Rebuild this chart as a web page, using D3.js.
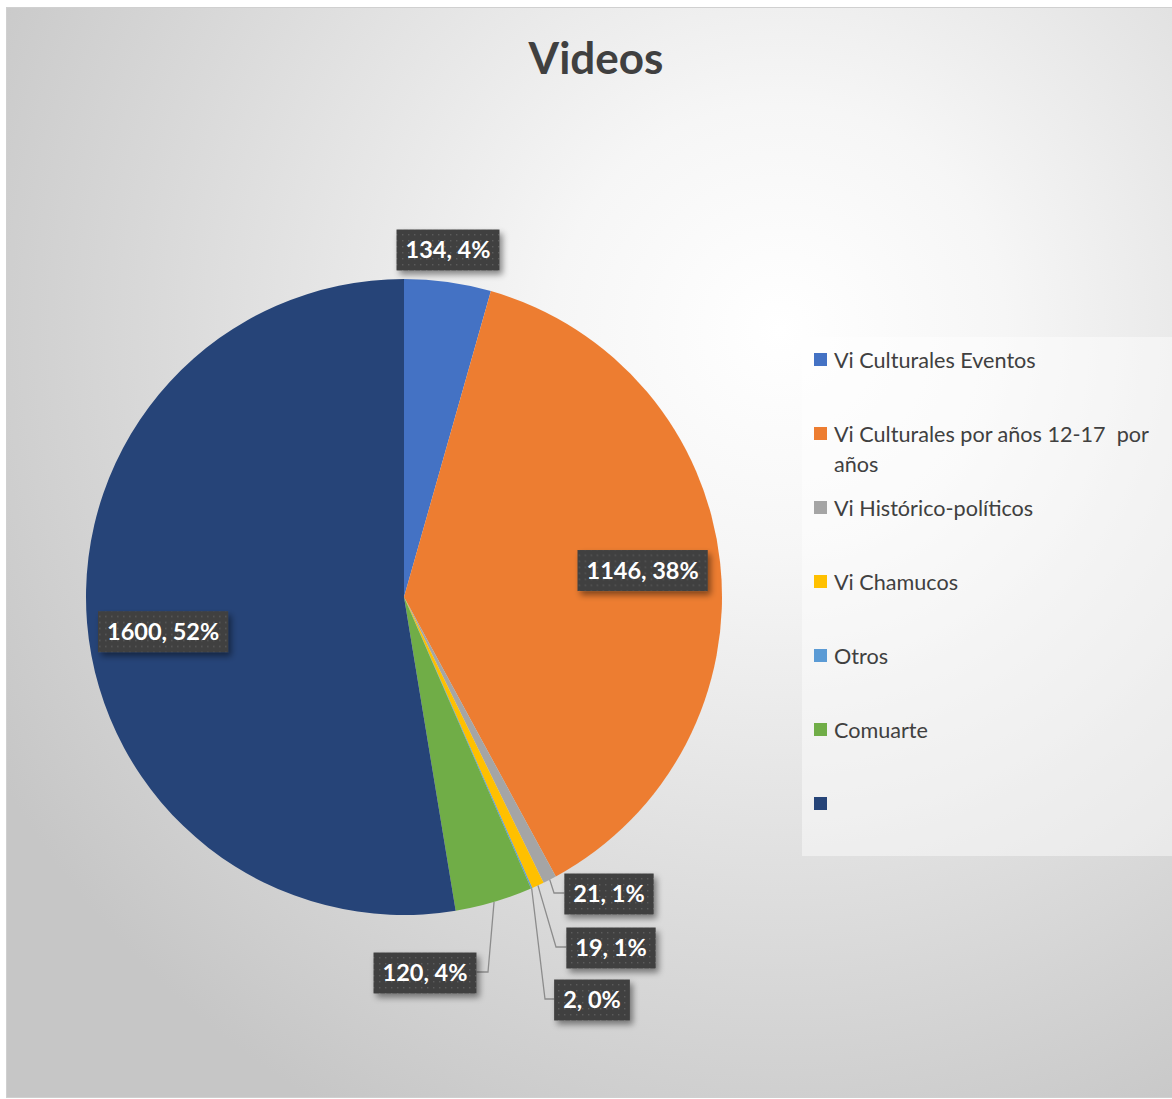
<!DOCTYPE html>
<html><head><meta charset="utf-8">
<script src="https://cdn.jsdelivr.net/npm/d3@7"></script>
<style>
html,body{margin:0;padding:0;background:#fff;}
svg{display:block;}
text{font-family:Lato,"Open Sans",sans-serif;}
</style></head>
<body>
<script>
const categories = ["Vi Culturales Eventos", "Vi Culturales por años 12-17  por años", "Vi Histórico-políticos", "Vi Chamucos", "Otros", "Comuarte", ""];
const values = [134, 1146, 21, 19, 2, 120, 1600];
const percents = [4, 38, 1, 1, 0, 4, 52];
const colors = ["#4472C4", "#ED7D31", "#A5A5A5", "#FFC000", "#5B9BD5", "#70AD47", "#264478"];
const title = "Videos";

// layout
const W = 1172, H = 1099;
const cx = 404, cy = 597, R = 318;
const labelLayout = [
  {type: "out", x: 448, y: 250, leader: false},
  {type: "in", r: 0.755},
  {type: "out", x: 609, y: 894, leader: true, elbowX: 554, side: "left"},
  {type: "out", x: 611, y: 948, leader: true, elbowX: 556, side: "left"},
  {type: "out", x: 592, y: 1000, leader: true, elbowX: 545, side: "left"},
  {type: "out", x: 425, y: 973, leader: true, elbowX: 488, side: "right"},
  {type: "in", r: 0.76}
];

const svg = d3.select("body").append("svg").attr("width", W).attr("height", H);
const defs = svg.append("defs");
const rg = defs.append("radialGradient").attr("id", "bg")
  .attr("gradientUnits", "userSpaceOnUse").attr("cx", 780).attr("cy", 330).attr("r", 900);
rg.append("stop").attr("offset", "0").attr("stop-color", "#ffffff");
rg.append("stop").attr("offset", "0.25").attr("stop-color", "#f6f6f6");
rg.append("stop").attr("offset", "0.7").attr("stop-color", "#d9d9d9");
rg.append("stop").attr("offset", "1").attr("stop-color", "#c6c6c6");

const pat = defs.append("pattern").attr("id", "dots").attr("patternUnits", "userSpaceOnUse")
  .attr("width", 6).attr("height", 6);
pat.append("rect").attr("width", 6).attr("height", 6).attr("fill", "#404040");
pat.append("rect").attr("x", 2).attr("y", 2).attr("width", 1.4).attr("height", 1.4).attr("fill", "#5c5c5c");

const f = defs.append("filter").attr("id", "shadow").attr("x", "-20%").attr("y", "-30%").attr("width", "150%").attr("height", "180%");
f.append("feDropShadow").attr("dx", 3).attr("dy", 4).attr("stdDeviation", 3)
  .attr("flood-color", "#000").attr("flood-opacity", 0.45);

// chart area
svg.append("rect").attr("x", 6.5).attr("y", 7.5).attr("width", W).attr("height", 1090)
  .attr("fill", "url(#bg)").attr("stroke", "#d0d0d0").attr("stroke-width", 1);

// title
svg.append("text").attr("x", 596).attr("y", 74).attr("text-anchor", "middle")
  .attr("font-size", 44).attr("font-weight", 700).attr("fill", "#404040").text(title);

// pie
const pie = d3.pie().sort(null).value(d => d)(values);
const arc = d3.arc().innerRadius(0).outerRadius(R);
const g = svg.append("g").attr("transform", `translate(${cx},${cy})`);
g.selectAll("path.slice").data(pie).join("path").attr("class", "slice")
  .attr("d", arc).attr("fill", (d, i) => colors[i]);

// leaders
const pt = (a, r) => [Math.sin(a) * r, -Math.cos(a) * r];
pie.forEach((d, i) => {
  const L = labelLayout[i];
  if (L.type !== "out" || !L.leader) return;
  const mid = (d.startAngle + d.endAngle) / 2;
  const [sx, sy] = pt(mid, R);
  const ly = L.y - cy - 1;
  const ex = L.elbowX - cx;
  g.append("polyline").attr("class", "leader").attr("data-i", i)
    .attr("points", `${sx},${sy} ${ex},${ly}`)
    .attr("fill", "none").attr("stroke", "#8c8c8c").attr("stroke-width", 1.3);
});

// labels
const lab = svg.append("g");
pie.forEach((d, i) => {
  const L = labelLayout[i];
  let x, y;
  if (L.type === "in") {
    const mid = (d.startAngle + d.endAngle) / 2;
    const p = pt(mid, R * L.r);
    x = cx + p[0]; y = cy + p[1];
    if (i === 6) y += 15;
  } else { x = L.x; y = L.y; }
  const t = `${values[i]}, ${percents[i]}%`;
  const lg = lab.append("g").attr("transform", `translate(${x},${y})`);
  const rect = lg.append("rect").attr("fill", "url(#dots)").attr("filter", "url(#shadow)");
  const tx = lg.append("text").attr("text-anchor", "middle").attr("dy", "0.35em")
    .attr("font-size", 23.5).attr("font-weight", 700).attr("fill", "#fff").text(t);
  const bb = tx.node().getBBox();
  const w = bb.width + 18, h = 41;
  rect.attr("x", -w / 2).attr("y", -h / 2).attr("width", w).attr("height", h);
  if (L.type === "out" && L.leader) {
    const edge = L.side === "left" ? x - w / 2 : x + w / 2;
    const line = g.select(`polyline[data-i="${i}"]`);
    line.attr("points", line.attr("points") + ` ${edge - cx},${L.y - cy - 1}`);
  }
});

// legend
svg.append("rect").attr("x", 802).attr("y", 337).attr("width", 380).attr("height", 519)
  .attr("fill", "#fff").attr("fill-opacity", 0.45);
const lgd = svg.append("g");
const lineBreaks = {1: ["Vi Culturales por años 12-17  por", "años"]};
categories.forEach((c, i) => {
  const y = 360 + i * 74;
  lgd.append("rect").attr("x", 814).attr("y", y - 7).attr("width", 13).attr("height", 13).attr("fill", colors[i]);
  const t = lgd.append("text").attr("x", 834).attr("y", y).attr("dy", "0.35em")
    .attr("font-size", 21.6).attr("fill", "#404040").style("white-space", "pre");
  const parts = lineBreaks[i] || [c];
  parts.forEach((p, k) => {
    t.append("tspan").attr("x", 834).attr("dy", k === 0 ? "0.35em" : "1.4em").text(p);
  });
});
</script>
</body></html>
